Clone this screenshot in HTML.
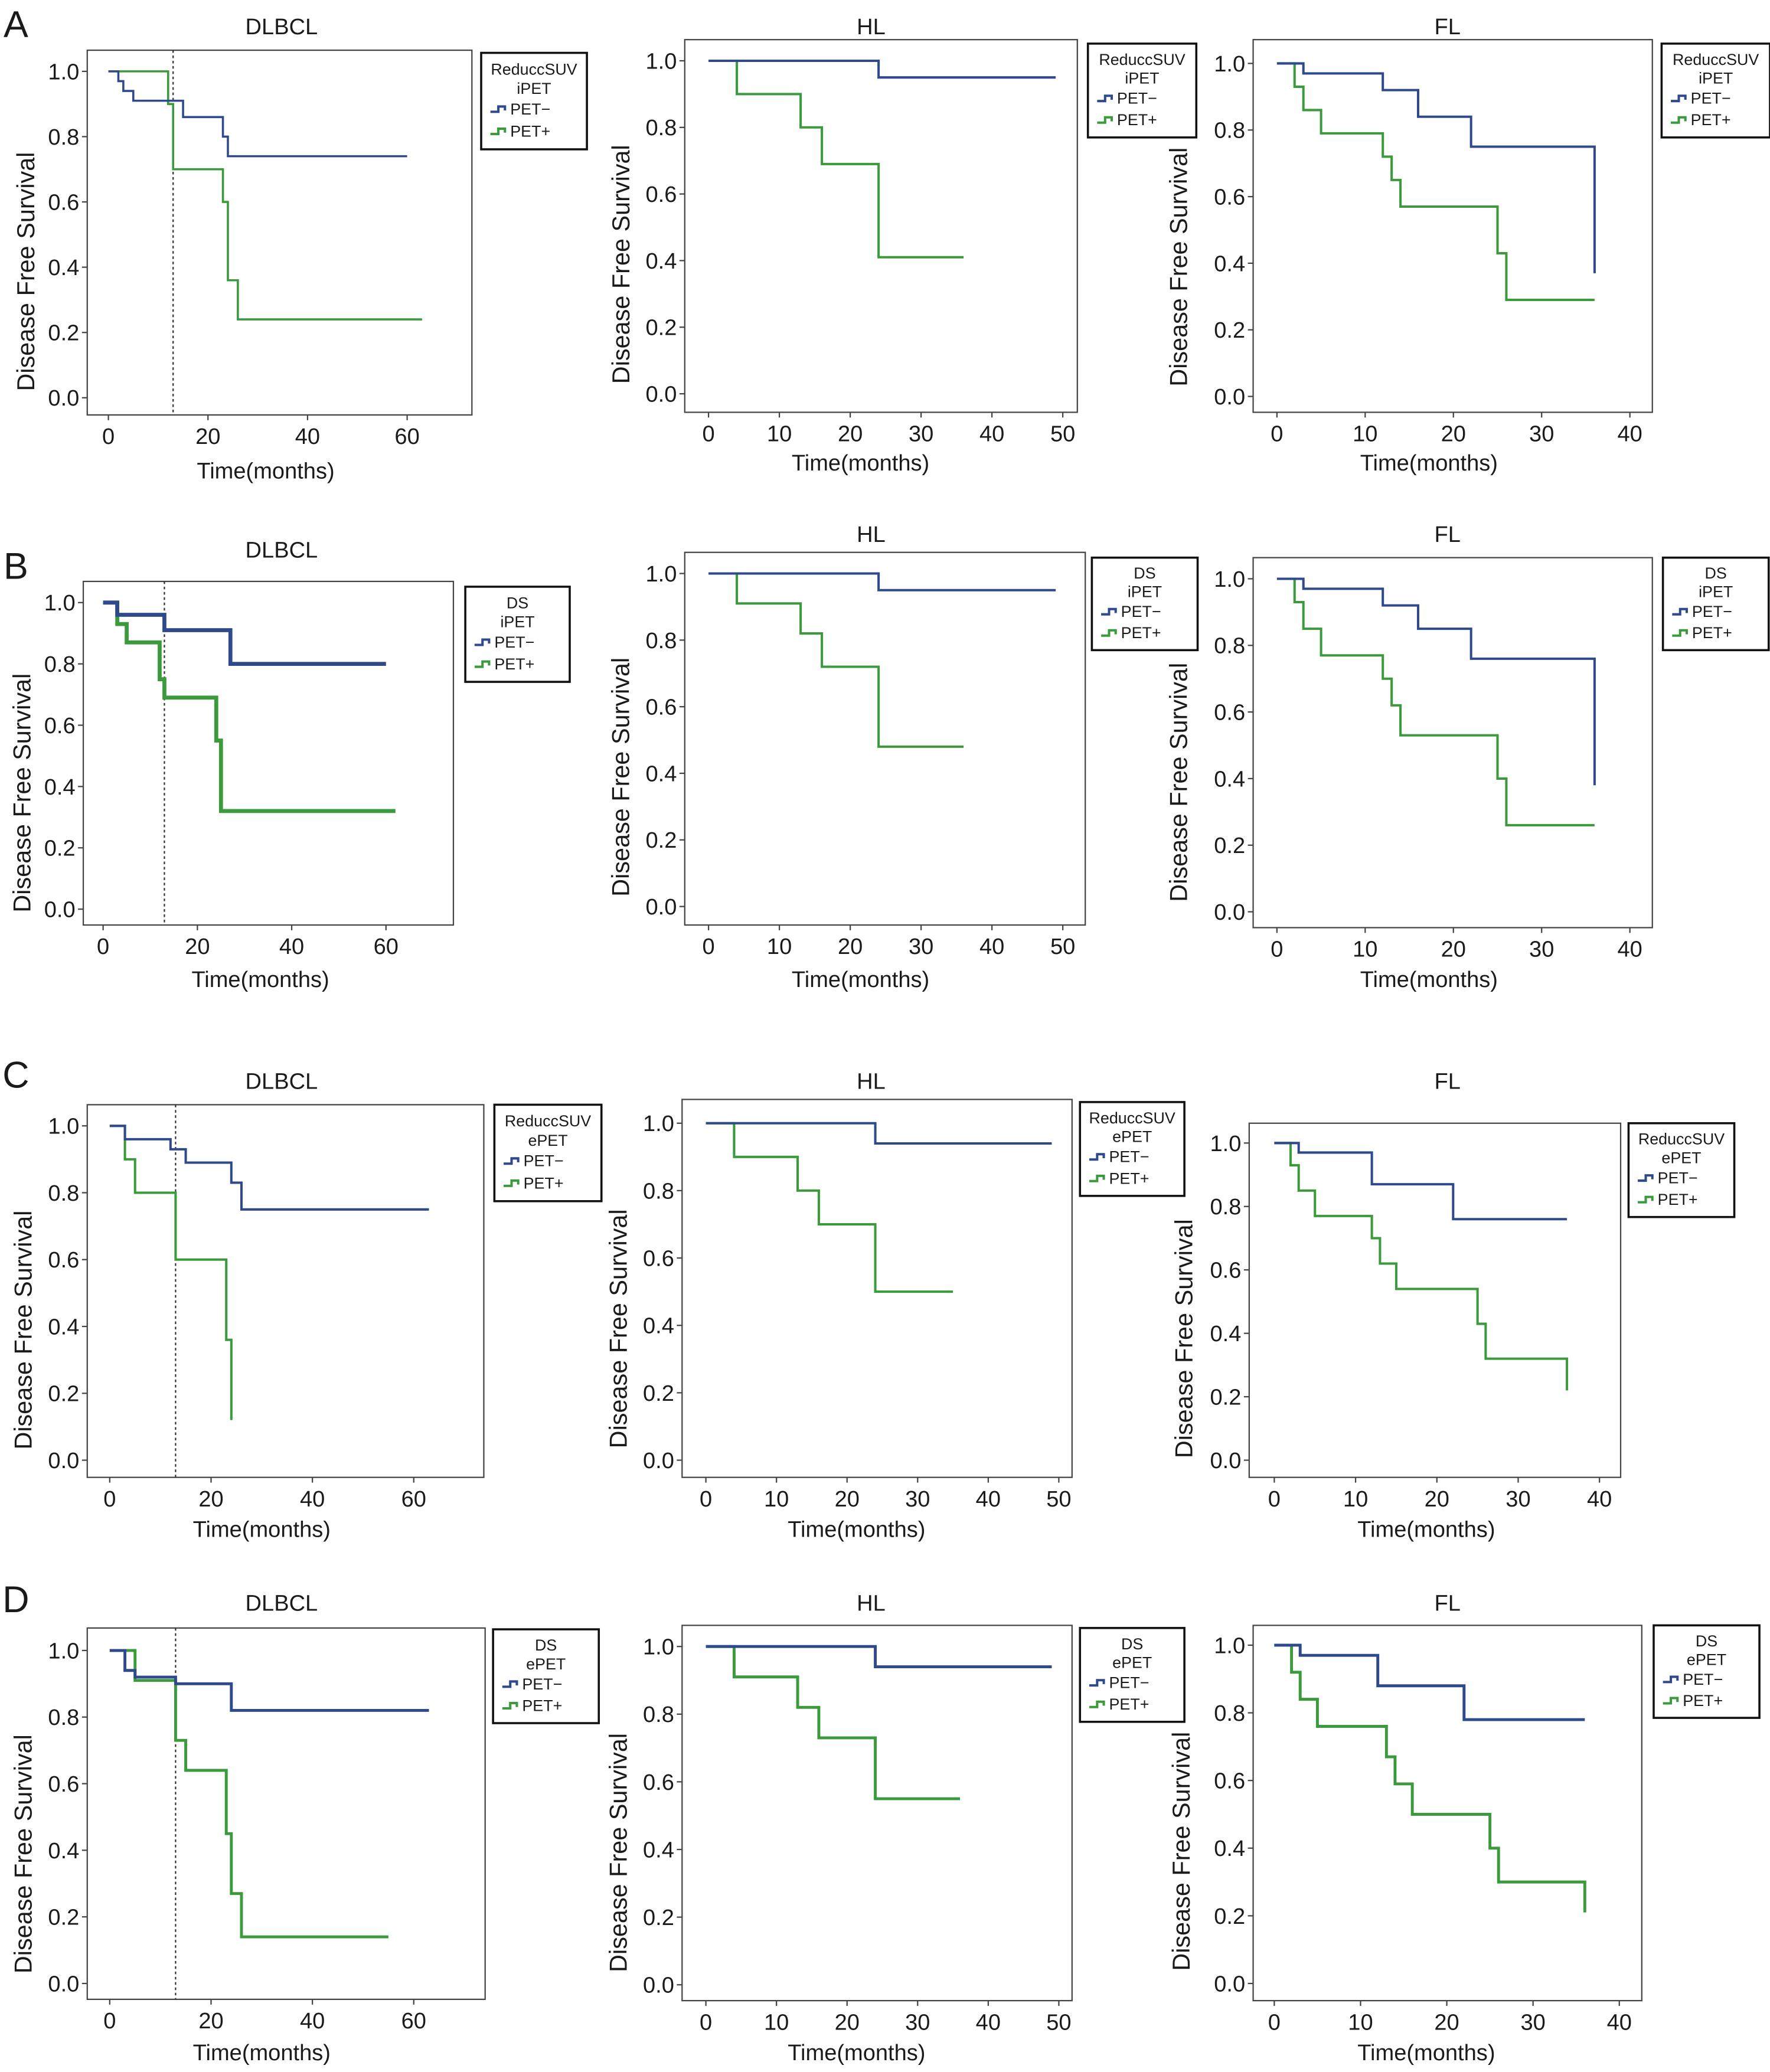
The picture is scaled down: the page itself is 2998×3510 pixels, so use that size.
<!DOCTYPE html>
<html><head><meta charset="utf-8">
<style>
html,body{margin:0;padding:0;background:#fff;}
svg{display:block;}
text{font-family:"Liberation Sans",Arial,sans-serif;fill:#1a1a1a;}
</style></head>
<body>
<svg id="fig" width="2998" height="3510" viewBox="0 0 1339 1568" preserveAspectRatio="none" xmlns="http://www.w3.org/2000/svg">
<rect width="1339" height="1568" fill="#fff"/>
</svg>
<script>
// ===== Data (time in months, survival proportion) =====
const A_DLBCL_neg_t=[0,2,3,5,15,23,24,60];
const A_DLBCL_neg_s=[1,0.97,0.94,0.91,0.86,0.80,0.74,0.74];
const A_DLBCL_pos_t=[0,12,13,23,24,26,63];
const A_DLBCL_pos_s=[1,0.90,0.70,0.60,0.36,0.24,0.24];
const A_HL_neg_t=[0,24,49];
const A_HL_neg_s=[1,0.95,0.95];
const A_HL_pos_t=[0,4,13,16,24,36];
const A_HL_pos_s=[1,0.90,0.80,0.69,0.41,0.41];
const A_FL_neg_t=[0,3,12,16,22,36,36];
const A_FL_neg_s=[1,0.97,0.92,0.84,0.75,0.75,0.37];
const A_FL_pos_t=[0,2,3,5,12,13,14,25,26,36];
const A_FL_pos_s=[1,0.93,0.86,0.79,0.72,0.65,0.57,0.43,0.29,0.29];

const B_DLBCL_neg_t=[0,3,13,27,60];
const B_DLBCL_neg_s=[1,0.96,0.91,0.80,0.80];
const B_DLBCL_pos_t=[0,3,5,12,13,24,25,62];
const B_DLBCL_pos_s=[1,0.93,0.87,0.75,0.69,0.55,0.32,0.32];
const B_HL_neg_t=[0,24,49];
const B_HL_neg_s=[1,0.95,0.95];
const B_HL_pos_t=[0,4,13,16,24,36];
const B_HL_pos_s=[1,0.91,0.82,0.72,0.48,0.48];
const B_FL_neg_t=[0,3,12,16,22,36,36];
const B_FL_neg_s=[1,0.97,0.92,0.85,0.76,0.76,0.38];
const B_FL_pos_t=[0,2,3,5,12,13,14,25,26,36];
const B_FL_pos_s=[1,0.93,0.85,0.77,0.70,0.62,0.53,0.40,0.26,0.26];

const C_DLBCL_neg_t=[0,3,12,15,24,26,63];
const C_DLBCL_neg_s=[1,0.96,0.93,0.89,0.83,0.75,0.75];
const C_DLBCL_pos_t=[0,3,5,13,23,24,24];
const C_DLBCL_pos_s=[1,0.90,0.80,0.60,0.36,0.36,0.12];
const C_HL_neg_t=[0,24,49];
const C_HL_neg_s=[1,0.94,0.94];
const C_HL_pos_t=[0,4,13,16,24,35];
const C_HL_pos_s=[1,0.90,0.80,0.70,0.50,0.50];
const C_FL_neg_t=[0,3,12,22,36];
const C_FL_neg_s=[1,0.97,0.87,0.76,0.76];
const C_FL_pos_t=[0,2,3,5,12,13,15,25,26,36,36];
const C_FL_pos_s=[1,0.93,0.85,0.77,0.70,0.62,0.54,0.43,0.32,0.32,0.22];

const D_DLBCL_neg_t=[0,3,5,13,24,63];
const D_DLBCL_neg_s=[1,0.94,0.92,0.90,0.82,0.82];
const D_DLBCL_pos_t=[0,5,13,15,23,24,26,55];
const D_DLBCL_pos_s=[1,0.91,0.73,0.64,0.45,0.27,0.14,0.14];
const D_HL_neg_t=[0,24,49];
const D_HL_neg_s=[1,0.94,0.94];
const D_HL_pos_t=[0,4,13,16,24,36];
const D_HL_pos_s=[1,0.91,0.82,0.73,0.55,0.55];
const D_FL_neg_t=[0,3,12,22,36];
const D_FL_neg_s=[1,0.97,0.88,0.78,0.78];
const D_FL_pos_t=[0,2,3,5,13,14,16,25,26,36,36];
const D_FL_pos_s=[1,0.92,0.84,0.76,0.67,0.59,0.50,0.40,0.30,0.30,0.21];

const yTicks=[0,0.2,0.4,0.6,0.8,1.0];
const yTickLabels=["0.0","0.2","0.4","0.6","0.8","1.0"];
const xTicksDLBCL=[0,20,40,60];
const xTicksHL=[0,10,20,30,40,50];
const xTicksFL=[0,10,20,30,40];

// ===== Layout (positions only) =====
const BLUE="#2f4a8c", GREEN="#3a9a3c";
const panels=[
 {id:"a-dlbcl",title:"DLBCL",box:[66,38,357,314],y1:54,y0:301,xp0:82,xp1:308,xmax:60,xt:xTicksDLBCL,leg:[364,40,444,113],lt:["ReduccSUV","iPET"],neg:[A_DLBCL_neg_t,A_DLBCL_neg_s],pos:[A_DLBCL_pos_t,A_DLBCL_pos_s],dot:13,xl:[201,356],tw:1.6,yo:40},
 {id:"a-hl",title:"HL",box:[518,30,815,312],y1:46,y0:298,xp0:536,xp1:804,xmax:50,xt:xTicksHL,leg:[823,33,905,104],lt:["ReduccSUV","iPET"],neg:[A_HL_neg_t,A_HL_neg_s],pos:[A_HL_pos_t,A_HL_pos_s],xl:[651,350],tw:1.8,yo:42},
 {id:"a-fl",title:"FL",box:[948,30,1250,312],y1:48,y0:300,xp0:966,xp1:1233,xmax:40,xt:xTicksFL,leg:[1257,33,1339,104],lt:["ReduccSUV","iPET"],neg:[A_FL_neg_t,A_FL_neg_s],pos:[A_FL_pos_t,A_FL_pos_s],xl:[1081,350],tw:1.8,yo:50},
 {id:"b-dlbcl",title:"DLBCL",box:[63,440,343,700],y1:456,y0:688,xp0:78,xp1:292,xmax:60,xt:xTicksDLBCL,leg:[352,444,431,516],lt:["DS","iPET"],neg:[B_DLBCL_neg_t,B_DLBCL_neg_s],pos:[B_DLBCL_pos_t,B_DLBCL_pos_s],dot:13,xl:[197,741],tw:3,yo:40},
 {id:"b-hl",title:"HL",box:[518,418,821,700],y1:434,y0:686,xp0:536,xp1:804,xmax:50,xt:xTicksHL,leg:[826,422,906,492],lt:["DS","iPET"],neg:[B_HL_neg_t,B_HL_neg_s],pos:[B_HL_pos_t,B_HL_pos_s],xl:[651,741],tw:1.8,yo:42},
 {id:"b-fl",title:"FL",box:[948,422,1250,702],y1:438,y0:690,xp0:966,xp1:1233,xmax:40,xt:xTicksFL,leg:[1258,422,1338,492],lt:["DS","iPET"],neg:[B_FL_neg_t,B_FL_neg_s],pos:[B_FL_pos_t,B_FL_pos_s],xl:[1081,741],tw:1.8,yo:50},
 {id:"c-dlbcl",title:"DLBCL",box:[66,836,366,1118],y1:852,y0:1105,xp0:83,xp1:313,xmax:60,xt:xTicksDLBCL,leg:[374,836,455,909],lt:["ReduccSUV","ePET"],neg:[C_DLBCL_neg_t,C_DLBCL_neg_s],pos:[C_DLBCL_pos_t,C_DLBCL_pos_s],dot:13,xl:[198,1157],tw:1.8,yo:42},
 {id:"c-hl",title:"HL",box:[516,832,811,1118],y1:850,y0:1105,xp0:534,xp1:801,xmax:50,xt:xTicksHL,leg:[817,834,896,905],lt:["ReduccSUV","ePET"],neg:[C_HL_neg_t,C_HL_neg_s],pos:[C_HL_pos_t,C_HL_pos_s],xl:[648,1157],tw:1.8,yo:42},
 {id:"c-fl",title:"FL",box:[945,850,1226,1118],y1:865,y0:1105,xp0:964,xp1:1210,xmax:40,xt:xTicksFL,leg:[1232,850,1312,921],lt:["ReduccSUV","ePET"],neg:[C_FL_neg_t,C_FL_neg_s],pos:[C_FL_pos_t,C_FL_pos_s],xl:[1079,1157],tw:1.8,yo:43},
 {id:"d-dlbcl",title:"DLBCL",box:[66,1232,367,1513],y1:1249,y0:1501,xp0:83,xp1:313,xmax:60,xt:xTicksDLBCL,leg:[373,1233,453,1304],lt:["DS","ePET"],neg:[D_DLBCL_neg_t,D_DLBCL_neg_s],pos:[D_DLBCL_pos_t,D_DLBCL_pos_s],dot:13,xl:[198,1553],tw:2.2,yo:42},
 {id:"d-hl",title:"HL",box:[516,1230,811,1514],y1:1246,y0:1502,xp0:534,xp1:801,xmax:50,xt:xTicksHL,leg:[817,1232,896,1303],lt:["DS","ePET"],neg:[D_HL_neg_t,D_HL_neg_s],pos:[D_HL_pos_t,D_HL_pos_s],xl:[648,1553],tw:2.2,yo:42},
 {id:"d-fl",title:"FL",box:[948,1230,1242,1514],y1:1245,y0:1501,xp0:964,xp1:1225,xmax:40,xt:xTicksFL,leg:[1251,1230,1331,1300],lt:["DS","ePET"],neg:[D_FL_neg_t,D_FL_neg_s],pos:[D_FL_pos_t,D_FL_pos_s],xl:[1079,1553],tw:2.2,yo:48}
];
const letters=[["A",12,28],["B",12,438],["C",12,823],["D",12,1220]];

const NS="http://www.w3.org/2000/svg";
const svg=document.getElementById('fig');
function mk(tag,attrs,parent){const e=document.createElementNS(NS,tag);for(const k in attrs)e.setAttribute(k,attrs[k]);(parent||svg).appendChild(e);return e;}

letters.forEach(l=>{
 const t=mk('text',{x:l[1],y:l[2],'font-size':28,'text-anchor':'middle'});
 
 
 t.textContent=l[0];
});

panels.forEach(p=>{
 const g=mk('g',{});
 
 
 const [bx0,by0,bx1,by1]=p.box;
 const xs=t=>p.xp0+(p.xp1-p.xp0)*t/p.xmax;
 const ys=v=>p.y0+(p.y1-p.y0)*v;
 const titleY={a:20,b:p.id==='b-dlbcl'?416:404,c:818,d:1213}[p.id[0]];
 const title=mk('text',{x:p.title==='DLBCL'?213:(p.title==='HL'?659:1095),y:titleY+6,'font-size':17,'text-anchor':'middle'},g);
 
 
 title.textContent=p.title;
 const box=mk('rect',{x:bx0,y:by0,width:bx1-bx0,height:by1-by0,fill:'none',stroke:'#444','stroke-width':1},g);
 
 
 yTicks.forEach((v,i)=>{
  mk('line',{x1:bx0-4,x2:bx0,y1:ys(v),y2:ys(v),stroke:'#444','stroke-width':1},g);
  const t=mk('text',{x:bx0-6,y:ys(v)+6,'font-size':17,'text-anchor':'end'},g);
  
  
  t.textContent=yTickLabels[i];
 });
 p.xt.forEach(v=>{
  mk('line',{x1:xs(v),x2:xs(v),y1:by1,y2:by1+4,stroke:'#444','stroke-width':1},g);
  const t=mk('text',{x:xs(v),y:by1+22,'font-size':17,'text-anchor':'middle'},g);
  
  
  t.textContent=v;
 });
 const xl=mk('text',{x:p.xl[0],y:p.xl[1]+6,'font-size':17,'text-anchor':'middle'},g);
 
 
 xl.textContent='Time(months)';
 const cy=(p.y0+p.y1)/2+28, cx=bx0-p.yo;
 const yl=mk('text',{x:cx,y:cy,'font-size':18.5,'text-anchor':'middle',transform:`rotate(-90 ${cx} ${cy})`},g);
 
 
 yl.textContent='Disease Free Survival';
 if(p.dot!==undefined){
  const d=mk('line',{x1:xs(p.dot),x2:xs(p.dot),y1:by0,y2:by1,stroke:'#333','stroke-width':1,'stroke-dasharray':'2,2'},g);
  
  
 }
 function step(ts,ss,color,name,w){
  let d=`M${xs(ts[0])},${ys(ss[0])}`;
  for(let i=1;i<ts.length;i++){d+=` H${xs(ts[i])} V${ys(ss[i])}`;}
  const pa=mk('path',{d:d,fill:'none',stroke:color,'stroke-width':w},g);
  
  
 }
 step(p.pos[0],p.pos[1],GREEN,'curve-pet-pos',p.tw);
 step(p.neg[0],p.neg[1],BLUE,'curve-pet-neg',p.tw);
 const [lx0,ly0,lx1,ly1]=p.leg;
 const lg=mk('g',{},g);
 
 
 mk('rect',{x:lx0,y:ly0,width:lx1-lx0,height:ly1-ly0,fill:'#fff',stroke:'#111','stroke-width':1.6},lg);
 const mx=(lx0+lx1)/2;
 const h=ly1-ly0;
 const rows=[ly0+h*0.17,ly0+h*0.37,ly0+h*0.57,ly0+h*0.8];
 p.lt.forEach((s,i)=>{const t=mk('text',{x:mx,y:rows[i]+4,'font-size':12,'text-anchor':'middle'},lg);t.textContent=s;});
 [[BLUE,'PET\u2212'],[GREEN,'PET+']].forEach((e,i)=>{
  const y=rows[2+i]+1, x=lx0+7;
  const en=mk('g',{},lg);
  
  
  mk('path',{d:`M${x},${y+2} H${x+6} V${y-2} H${x+11} V${y+1}`,fill:'none',stroke:e[0],'stroke-width':1.8},en);
  const t=mk('text',{x:x+15,y:y+4,'font-size':12},en);
  t.textContent=e[1];
 });
});
</script>
</body></html>
